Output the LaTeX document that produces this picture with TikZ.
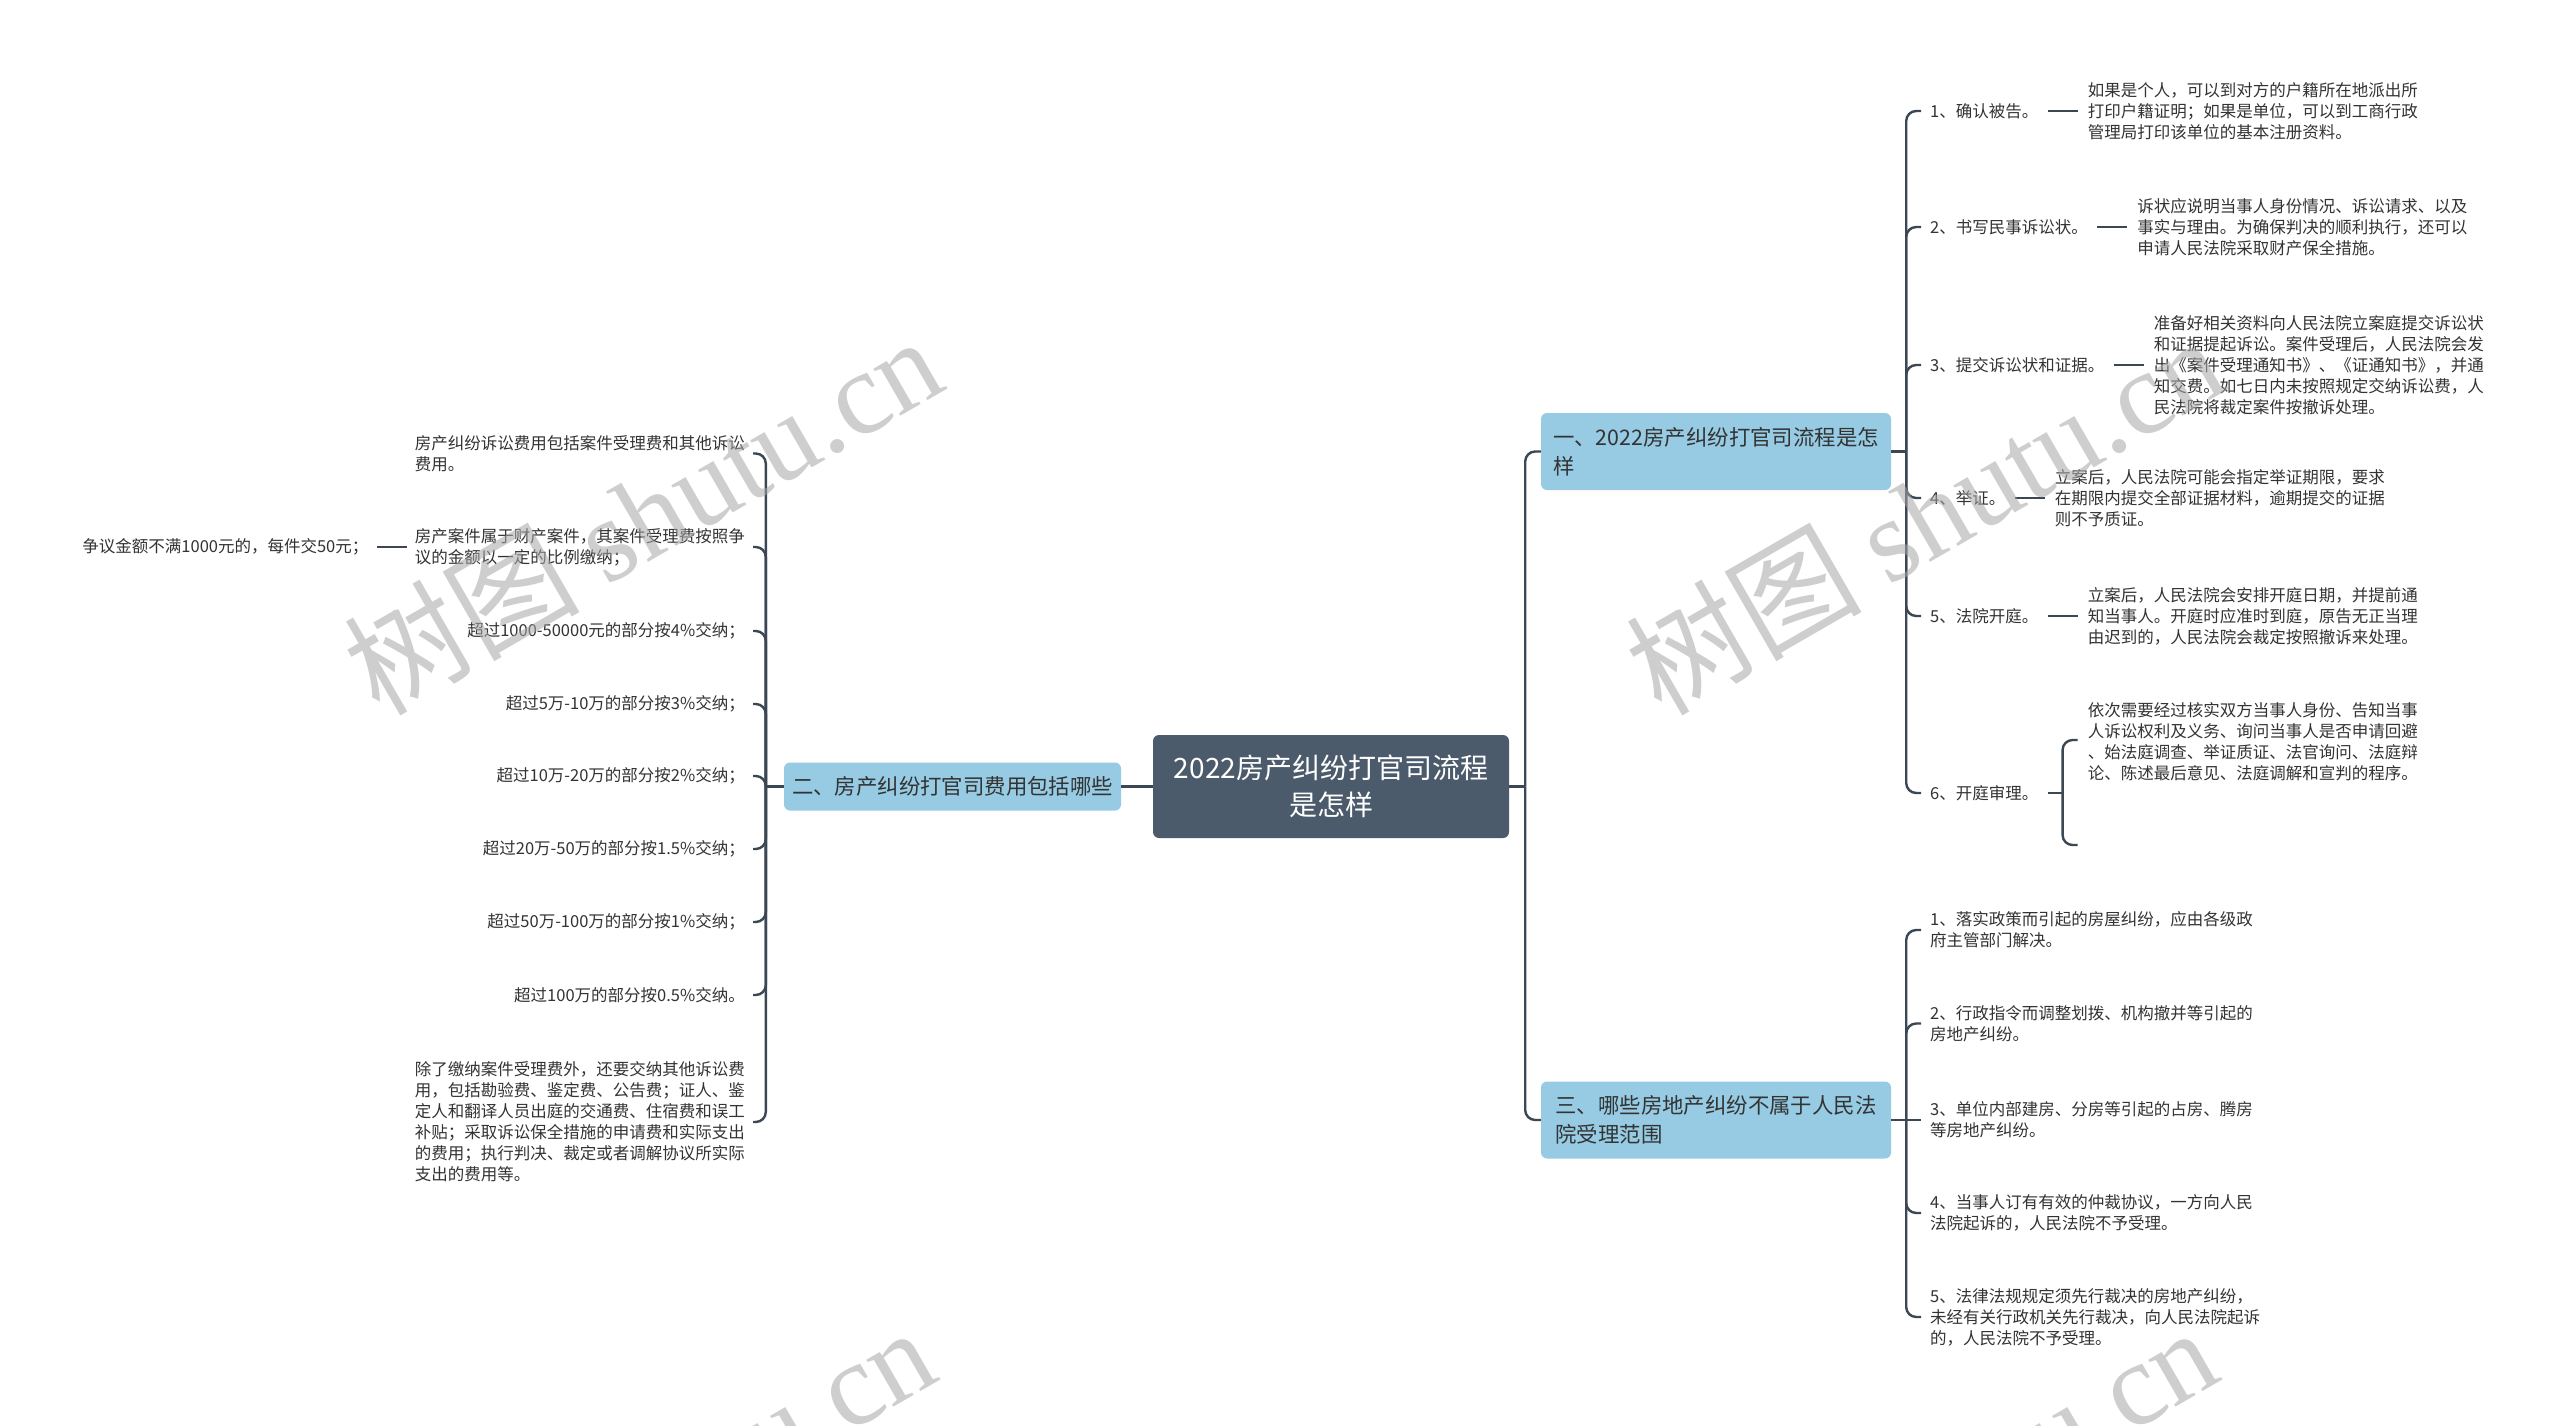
\documentclass[tikz,border=0pt]{standalone}
\usepackage{fontspec}
\setmainfont{Noto Sans CJK SC}
\newfontfamily\wmlatin{Liberation Serif}
\definecolor{lineC}{HTML}{3B4753}
\definecolor{rootC}{HTML}{4B5B6B}
\definecolor{branchC}{HTML}{96CBE3}
\definecolor{txtC}{HTML}{333333}
\begin{document}
\begin{tikzpicture}[x=1pt,y=-1pt,
  conn/.style={draw=lineC, line width=2.4pt, rounded corners=10pt},
  rootbox/.style={fill=rootC, rounded corners=6pt, text=white, align=center, font=\fontsize{28}{37}\selectfont, minimum width=356pt, minimum height=103pt, inner sep=0pt},
  branchbox/.style={fill=branchC, rounded corners=6pt, text=txtC, align=left, font=\fontsize{21.4}{29}\selectfont, inner sep=0pt},
  lbl/.style={text=txtC, align=left, font=\fontsize{16.5}{21}\selectfont, inner xsep=9pt, inner ysep=2pt, anchor=west},
  leafR/.style={text=txtC, align=left, font=\fontsize{16.5}{21}\selectfont, inner xsep=10pt, inner ysep=2pt, anchor=west},
  leafL/.style={text=txtC, align=left, font=\fontsize{16.5}{21}\selectfont, inner xsep=8pt, inner ysep=2pt, anchor=east},
  wm/.style={rotate=30, text=black!35, text opacity=0.55, font=\fontsize{118}{126}\selectfont, inner sep=0pt}
]
\useasboundingbox[fill=white] (0,0) rectangle (2560,1426);

% root and branches
\node[rootbox] (root) at (1331,786.5) {2022房产纠纷打官司流程\\是怎样};
\node[branchbox, minimum width=350pt, minimum height=77pt] (b1) at (1716,451.5) {一、2022房产纠纷打官司流程是怎\\样};
\node[branchbox, minimum width=350pt, minimum height=77pt] (b3) at (1716,1120) {三、哪些房地产纠纷不属于人民法\\院受理范围};
\node[branchbox, minimum width=337pt, minimum height=48pt] (b2) at (952.5,786.5) {二、房产纠纷打官司费用包括哪些};

% branch 1 children
\node[lbl] (k1) at (1921,111) {1、确认被告。};
\node[lbl] (k2) at (1921,227) {2、书写民事诉讼状。};
\node[lbl] (k3) at (1921,365) {3、提交诉讼状和证据。};
\node[lbl] (k4) at (1921,498) {4、举证。};
\node[lbl] (k5) at (1921,616) {5、法院开庭。};
\node[lbl] (k6) at (1921,793) {6、开庭审理。};

\node[leafR] (l1) at ([xshift=30pt]k1.east) {如果是个人，可以到对方的户籍所在地派出所\\打印户籍证明；如果是单位，可以到工商行政\\管理局打印该单位的基本注册资料。};
\node[leafR] (l2) at ([xshift=30pt]k2.east) {诉状应说明当事人身份情况、诉讼请求、以及\\事实与理由。为确保判决的顺利执行，还可以\\申请人民法院采取财产保全措施。};
\node[leafR] (l3) at ([xshift=30pt]k3.east) {准备好相关资料向人民法院立案庭提交诉讼状\\和证据提起诉讼。案件受理后，人民法院会发\\出《案件受理通知书》、《证通知书》，并通\\知交费。如七日内未按照规定交纳诉讼费，人\\民法院将裁定案件按撤诉处理。};
\node[leafR] (l4) at ([xshift=30pt]k4.east) {立案后，人民法院可能会指定举证期限，要求\\在期限内提交全部证据材料，逾期提交的证据\\则不予质证。};
\node[leafR] (l5) at ([xshift=30pt]k5.east) {立案后，人民法院会安排开庭日期，并提前通\\知当事人。开庭时应准时到庭，原告无正当理\\由迟到的，人民法院会裁定按照撤诉来处理。};
\node[leafR] (l6) at ([xshift=30pt,yshift=51pt]k6.east) {依次需要经过核实双方当事人身份、告知当事\\人诉讼权利及义务、询问当事人是否申请回避\\、始法庭调查、举证质证、法官询问、法庭辩\\论、陈述最后意见、法庭调解和宣判的程序。};

% branch 3 children
\node[lbl] (c1) at (1921,930) {1、落实政策而引起的房屋纠纷，应由各级政\\府主管部门解决。};
\node[lbl] (c2) at (1921,1023.5) {2、行政指令而调整划拨、机构撤并等引起的\\房地产纠纷。};
\node[lbl] (c3) at (1921,1120) {3、单位内部建房、分房等引起的占房、腾房\\等房地产纠纷。};
\node[lbl] (c4) at (1921,1213) {4、当事人订有有效的仲裁协议，一方向人民\\法院起诉的，人民法院不予受理。};
\node[lbl] (c5) at (1921,1317) {5、法律法规规定须先行裁决的房地产纠纷，\\未经有关行政机关先行裁决，向人民法院起诉\\的，人民法院不予受理。};

% branch 2 children
\node[leafL] (p1) at (753,453.5) {房产纠纷诉讼费用包括案件受理费和其他诉讼\\费用。};
\node[leafL] (p2) at (753,547) {房产案件属于财产案件，其案件受理费按照争\\议的金额以一定的比例缴纳；};
\node[leafL] (p3) at (753,631) {超过1000-50000元的部分按4\%交纳；};
\node[leafL] (p4) at (753,704) {超过5万-10万的部分按3\%交纳；};
\node[leafL] (p5) at (753,776) {超过10万-20万的部分按2\%交纳；};
\node[leafL] (p6) at (753,849) {超过20万-50万的部分按1.5\%交纳；};
\node[leafL] (p7) at (753,922) {超过50万-100万的部分按1\%交纳；};
\node[leafL] (p8) at (753,995) {超过100万的部分按0.5\%交纳。};
\node[leafL] (p9) at (753,1122) {除了缴纳案件受理费外，还要交纳其他诉讼费\\用，包括勘验费、鉴定费、公告费；证人、鉴\\定人和翻译人员出庭的交通费、住宿费和误工\\补贴；采取诉讼保全措施的申请费和实际支出\\的费用；执行判决、裁定或者调解协议所实际\\支出的费用等。};
\node[leafL] (q) at ([xshift=-30pt]p2.west) {争议金额不满1000元的，每件交50元；};

% connectors: root level
\coordinate (jr) at ([xshift=16pt]root.east);
\draw[conn] (root.east) -- (jr);
\draw[conn] (jr) |- (b1.west);
\draw[conn] (jr) |- (b3.west);
\draw[conn] (root.west) -- (b2.east);

% branch 2
\coordinate (jl) at ([xshift=-18pt]b2.west);
\draw[conn] (b2.west) -- (jl);
\foreach \n in {p1,p2,p3,p4,p5,p6,p7,p8,p9} \draw[conn] (jl) |- (\n.east);
\draw[conn] (p2.west) -- (q.east);

% branch 1
\coordinate (j1) at ([xshift=15pt]b1.east);
\draw[conn] (b1.east) -- (j1);
\foreach \n in {k1,k2,k3,k4,k5,k6} \draw[conn] (j1) |- (\n.west);
\draw[conn] (k1.east) -- (l1.west);
\draw[conn] (k2.east) -- (l2.west);
\draw[conn] (k3.east) -- (l3.west);
\draw[conn] (k4.east) -- (l4.west);
\draw[conn] (k5.east) -- (l5.west);
\coordinate (j6) at ([xshift=15pt]k6.east);
\coordinate (t6) at ([xshift=30pt,yshift=53pt]k6.east);
\coordinate (e6) at ([xshift=30pt,yshift=-52pt]k6.east);
\draw[conn] (k6.east) -- (j6);
\draw[conn] (t6) -| (j6) |- (e6);

% branch 3
\coordinate (j3) at ([xshift=15pt]b3.east);
\draw[conn] (b3.east) -- (j3);
\foreach \n in {c1,c2,c4,c5} \draw[conn] (j3) |- (\n.west);
\draw[conn] (j3) -- (c3.west);

% watermarks
\begin{scope}
\clip (0,0) rectangle (2560,1426);
\node[wm] (wm1) at (642,514) {树图 {\wmlatin shutu.cn}};
\node[wm] (wm2) at (1924,514) {树图 {\wmlatin shutu.cn}};
\node[wm] (wm3) at (635,1505) {树图 {\wmlatin shutu.cn}};
\node[wm] (wm4) at (1917,1505) {树图 {\wmlatin shutu.cn}};
\end{scope}
\end{tikzpicture}
\end{document}
